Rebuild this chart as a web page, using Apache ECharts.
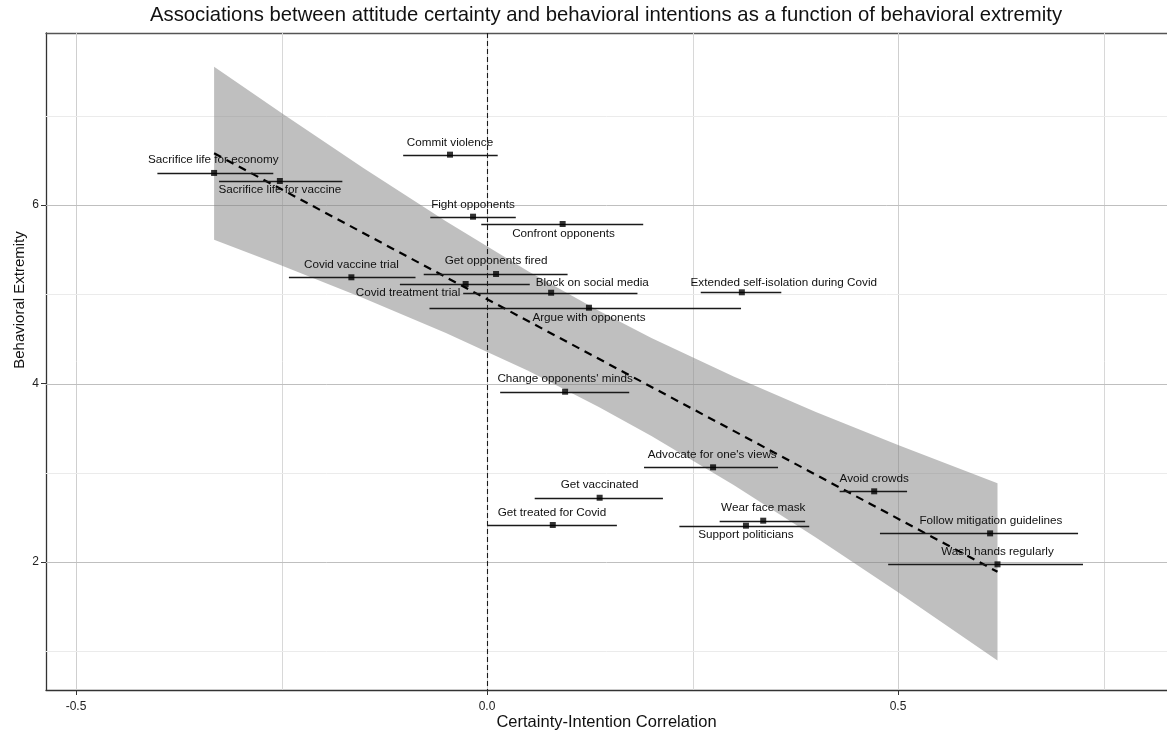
<!DOCTYPE html>
<html><head><meta charset="utf-8">
<script src="https://cdn.jsdelivr.net/npm/echarts@6/dist/echarts.min.js"></script>
<style>html,body{margin:0;padding:0;background:#fff}#c{width:1167px;height:731px}</style>
</head><body><div id="c"></div>
<script>
// ---- data ----
const behaviors = ["Sacrifice life for economy", "Sacrifice life for vaccine", "Commit violence", "Fight opponents",
  "Confront opponents", "Get opponents fired", "Covid treatment trial", "Block on social media", "Argue with opponents",
  "Extended self-isolation during Covid", "Covid vaccine trial", "Change opponents' minds", "Advocate for one's views",
  "Get vaccinated", "Get treated for Covid", "Wear face mask", "Support politicians", "Avoid crowds",
  "Follow mitigation guidelines", "Wash hands regularly"];
const correlation = [-0.332, -0.252, -0.045, -0.017, 0.092, 0.011, -0.026, 0.078, 0.124, 0.310, -0.165, 0.095, 0.275, 0.137, 0.080, 0.336, 0.315, 0.471, 0.612, 0.621];
const ciLow = [-0.401, -0.326, -0.102, -0.069, -0.007, -0.077, -0.106, -0.029, -0.070, 0.260, -0.241, 0.016, 0.191, 0.058, 0.000, 0.283, 0.234, 0.429, 0.478, 0.488];
const ciHigh = [-0.260, -0.176, 0.013, 0.035, 0.190, 0.098, 0.052, 0.183, 0.309, 0.358, -0.087, 0.173, 0.354, 0.214, 0.158, 0.387, 0.392, 0.511, 0.719, 0.725];
const extremity = [6.359, 6.269, 6.564, 5.869, 5.787, 5.227, 5.115, 5.017, 4.849, 5.022, 5.190, 3.908, 3.061, 2.720, 2.415, 2.463, 2.407, 2.792, 2.321, 1.974];
// label anchor points (data units)
const labelX = [-0.333, -0.252, -0.045, -0.017, 0.093, 0.011, -0.096, 0.128, 0.124, 0.361, -0.165, 0.095, 0.274, 0.137, 0.079, 0.336, 0.315, 0.471, 0.613, 0.621];
const labelY = [6.504, 6.168, 6.698, 6.000, 5.678, 5.373, 5.022, 5.134, 4.742, 5.129, 5.328, 4.050, 3.196, 2.863, 2.552, 2.605, 2.306, 2.930, 2.467, 2.112];
// fitted line and its confidence band
const fitX = [-0.332, 0.621];
const fitY = [6.579, 1.890];
const bandX = [-0.332, -0.25, -0.15, -0.05, 0.05, 0.136, 0.2, 0.3, 0.4, 0.5, 0.621];
const bandLow = [5.610, 5.321, 4.955, 4.566, 4.142, 3.738, 3.413, 2.862, 2.274, 1.660, 0.897];
const bandHigh = [7.548, 7.031, 6.413, 5.818, 5.258, 4.814, 4.511, 4.078, 3.682, 3.312, 2.883];
// ticks
const xMajorTicks = [-0.5, 0, 0.5];
const xMinorTicks = [-0.25, 0.25, 0.75];
const yMajorTicks = [2, 4, 6];
const yMinorTicks = [1, 3, 5, 7];

const FONT = "'Liberation Sans', Arial, Helvetica, sans-serif";
const X_MIN = -0.5365, X_MAX = 0.8272, Y_MIN = 0.566, Y_MAX = 7.927;

const chart = echarts.init(document.getElementById('c'), null, {renderer: 'canvas'});

const option = {
  animation: false,
  backgroundColor: '#fff',
  title: {
    text: 'Associations between attitude certainty and behavioral intentions as a function of behavioral extremity',
    left: 601, top: 0, textAlign: 'center',
    textStyle: {fontFamily: FONT, fontSize: 20.3, fontWeight: 'normal', color: '#111'}
  },
  graphic: [{
    type: 'text', x: 20, y: 300, rotation: Math.PI / 2,
    style: {text: 'Behavioral Extremity', fontFamily: FONT, fontSize: 15, fill: '#111', align: 'center', verticalAlign: 'middle'}
  }],
  grid: {left: 46, right: 0, top: 33, bottom: 41, containLabel: false, outerBoundsMode: 'none'},
  xAxis: [{
    type: 'value', min: X_MIN, max: X_MAX, position: 'bottom',
    axisLine: {show: true, onZero: false, lineStyle: {color: '#333', width: 1.3}},
    axisTick: {show: true, customValues: xMajorTicks, length: 5, lineStyle: {color: '#333'}},
    axisLabel: {customValues: xMajorTicks, formatter: v => v.toFixed(1), color: '#222', fontSize: 12, fontFamily: FONT, margin: 11},
    splitLine: {show: false},
    name: 'Certainty-Intention Correlation', nameLocation: 'middle', nameGap: 24, nameMoveOverlap: false,
    nameTextStyle: {fontFamily: FONT, fontSize: 16.5, color: '#111'}
  }, {
    type: 'value', min: X_MIN, max: X_MAX, position: 'top',
    axisLine: {show: true, onZero: false, lineStyle: {color: '#555', width: 1.3}},
    axisTick: {show: false}, axisLabel: {show: false}, splitLine: {show: false}
  }],
  yAxis: [{
    type: 'value', min: Y_MIN, max: Y_MAX,
    axisLine: {show: true, onZero: false, lineStyle: {color: '#333', width: 1.3}},
    axisTick: {show: true, customValues: yMajorTicks, length: 5, lineStyle: {color: '#333'}},
    axisLabel: {customValues: yMajorTicks, formatter: v => String(v), color: '#222', fontSize: 12, fontFamily: FONT, margin: 7},
    splitLine: {show: false}
  }],
  series: [
    { // vertical grid lines
      type: 'custom', silent: true, z: 1,
      data: xMajorTicks.map(v => [v, 1]).concat(xMinorTicks.map(v => [v, 0])),
      encode: {x: 0},
      renderItem(params, api) {
        const cs = params.coordSys;
        const x = Math.round(api.coord([api.value(0), 4])[0]) + 0.5;
        return {type: 'line', shape: {x1: x, y1: cs.y, x2: x, y2: cs.y + cs.height},
          style: {stroke: api.value(1) ? '#cfcfcf' : '#d8d8d8', lineWidth: 1}};
      }
    },
    { // horizontal grid lines
      type: 'custom', silent: true, z: 1,
      data: yMajorTicks.map(v => [0, v, 1]).concat(yMinorTicks.map(v => [0, v, 0])),
      encode: {x: 0, y: 1},
      renderItem(params, api) {
        const cs = params.coordSys;
        const y = Math.round(api.coord([0, api.value(1)])[1]) + 0.5;
        return {type: 'line', shape: {x1: cs.x, y1: y, x2: cs.x + cs.width, y2: y},
          style: {stroke: api.value(2) ? '#bfbfbf' : '#ebebeb', lineWidth: 1}};
      }
    },
    { // confidence band
      type: 'custom', silent: true, z: 2,
      data: [[bandX[0], bandLow[0]]],
      renderItem(params, api) {
        const pts = [];
        for (let i = 0; i < bandX.length; i++) pts.push(api.coord([bandX[i], bandHigh[i]]));
        for (let i = bandX.length - 1; i >= 0; i--) pts.push(api.coord([bandX[i], bandLow[i]]));
        return {type: 'polygon', shape: {points: pts}, style: {fill: 'rgba(128,128,128,0.5)'}};
      }
    },
    { // zero reference line
      type: 'custom', silent: true, z: 3,
      data: [[0, 4]],
      renderItem(params, api) {
        const cs = params.coordSys;
        const x = Math.round(api.coord([api.value(0), 4])[0]) + 0.5;
        return {type: 'line', shape: {x1: x, y1: cs.y, x2: x, y2: cs.y + cs.height},
          style: {stroke: '#1a1a1a', lineWidth: 1.1, lineDash: [5, 3]}};
      }
    },
    { // fitted line
      type: 'line', z: 4, silent: true, symbol: 'none',
      data: fitX.map((x, i) => [x, fitY[i]]),
      lineStyle: {color: '#000', width: 2.2, type: [8, 6]}
    },
    { // error bars
      type: 'custom', silent: true, z: 5,
      data: behaviors.map((b, i) => [correlation[i], extremity[i], ciLow[i], ciHigh[i]]),
      renderItem(params, api) {
        const p1 = api.coord([api.value(2), api.value(1)]);
        const p2 = api.coord([api.value(3), api.value(1)]);
        const y = Math.round(p1[1]) + 0.5;
        return {type: 'line', shape: {x1: p1[0], y1: y, x2: p2[0], y2: y},
          style: {stroke: '#1a1a1a', lineWidth: 1.5}};
      }
    },
    { // points
      type: 'scatter', z: 6, silent: true, symbol: 'rect', symbolSize: 6,
      data: behaviors.map((b, i) => [correlation[i], extremity[i]]),
      itemStyle: {color: '#000'}
    },
    { // labels
      type: 'custom', silent: true, z: 7,
      data: behaviors.map((b, i) => [labelX[i], labelY[i]]),
      renderItem(params, api) {
        const p = api.coord([api.value(0), api.value(1)]);
        return {type: 'text', x: p[0], y: p[1],
          style: {text: behaviors[params.dataIndex], fontFamily: FONT, fontSize: 11.7, fill: '#111',
            align: 'center', verticalAlign: 'middle'}};
      }
    }
  ]
};
chart.setOption(option);
</script>
</body></html>
